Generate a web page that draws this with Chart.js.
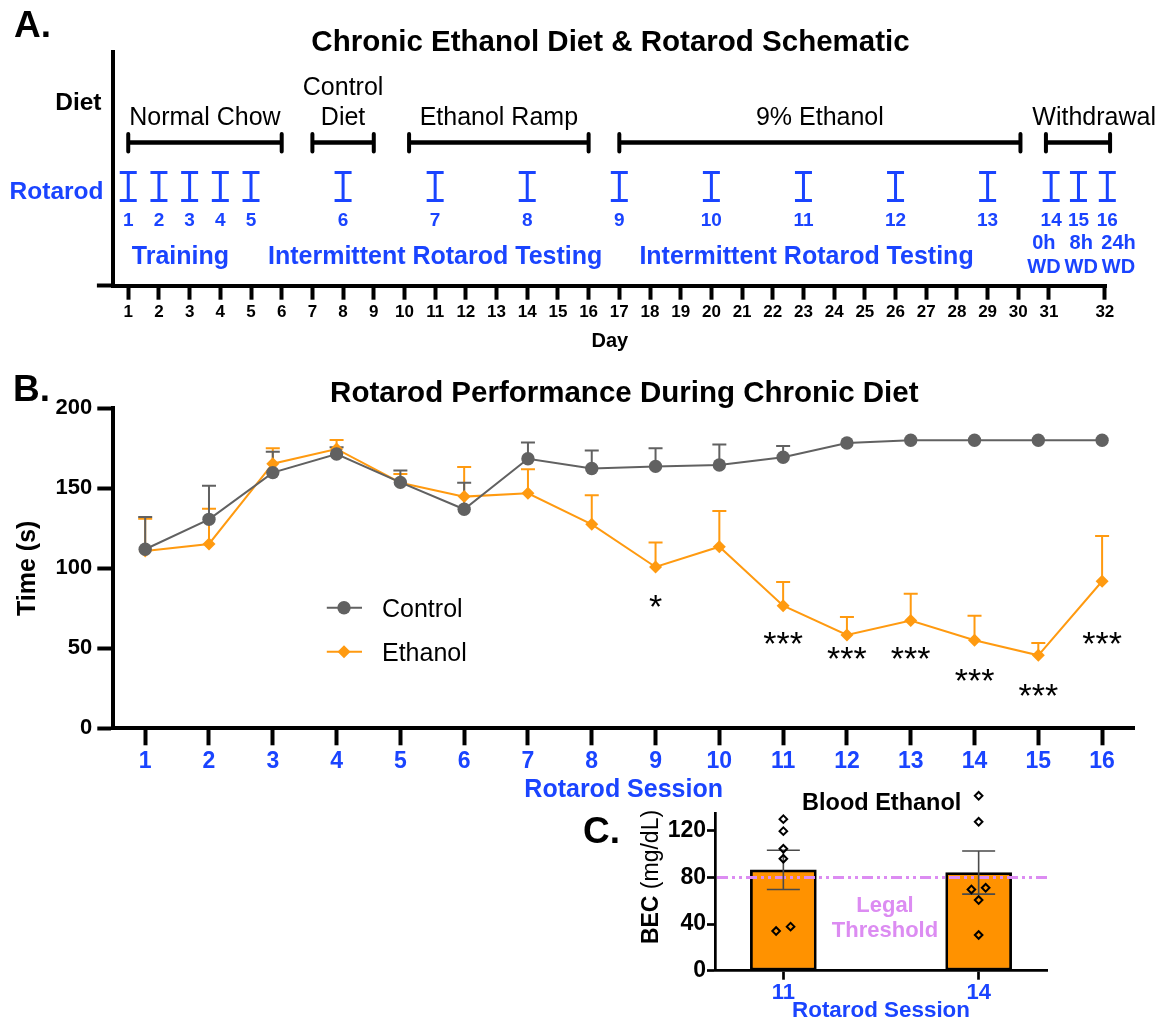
<!DOCTYPE html>
<html><head><meta charset="utf-8">
<script src="https://cdn.jsdelivr.net/npm/chart.js@4.4.1/dist/chart.umd.min.js"></script>
<style>
html,body{margin:0;padding:0;background:#fff;}
#wrap{position:relative;width:1168px;height:1024px;overflow:hidden;font-family:"Liberation Sans",Arial,Helvetica,sans-serif;background:#fff;}
canvas{position:absolute;left:0;top:0;}
.t{position:absolute;white-space:nowrap;line-height:1;transform:translate(-50%,-50%);}
</style></head><body>
<div id="wrap">
<canvas id="cA" width="1168" height="1024"></canvas>
<canvas id="cB" width="1168" height="1024"></canvas>
<canvas id="cC" width="1168" height="1024"></canvas>
</div>
<script>
const FF = '"Liberation Sans", Arial, Helvetica, sans-serif';
Chart.defaults.font.family = FF;
Chart.defaults.color = '#000';
const BLUE = '#1a44ff', GRAY = '#616161', ORANGE = '#ff9a10', BARORANGE = '#ff9200', VIOLET = '#dc8cf2';

// ---------- Panel A : schematic ----------
const dayTickPos = [1,2,3,4,5,6,7,8,9,10,11,12,13,14,15,16,17,18,19,20,21,22,23,24,25,26,27,28,29,30,31,32.82];
const dayTickLabels = ['1','2','3','4','5','6','7','8','9','10','11','12','13','14','15','16','17','18','19','20','21','22','23','24','25','26','27','28','29','30','31','32'];
const dietLabels = ['Normal Chow','Control\nDiet','Ethanol Ramp','9% Ethanol','Withdrawal'];
const dietStartDay = [1,7,10.15,17,30.9];
const dietEndDay = [6,9,16,30.07,32.99];
const rotarodSessions = ['1','2','3','4','5','6','7','8','9','10','11','12','13','14','15','16'];
const rotarodSessionDay = [1,2,3,4,5,8,11,14,17,20,23,26,29,31.07,31.96,32.9];
const withdrawalTimes = ['0h','8h','24h'];
const phaseLabels = ['Training','Intermittent Rotarod Testing','Intermittent Rotarod Testing'];
const phaseLabelDay = [2.7,11,23.1];

// ---------- Panel B : rotarod performance ----------
const sessions = [1,2,3,4,5,6,7,8,9,10,11,12,13,14,15,16];
const controlMean = [111.9,130.6,159.8,171.4,153.7,136.9,168.5,162.4,163.7,164.6,169.4,178.3,180,180,180,180];
const controlSem  = [20.1,21.0,13.1,4.2,7.5,16.6,10.2,11.3,11.3,12.7,7.0,0,0,0,0,0];
const ethanolMean = [110.8,115.2,165.4,174.6,153.5,144.8,146.9,127.5,100.8,113.5,76.6,58.3,67.3,55.0,45.6,91.9];
const ethanolSem  = [20.2,22.0,9.6,5.6,5.5,18.5,15.0,18.1,15.4,22.3,14.8,11.3,16.8,15.4,7.7,28.3];
const sigSessions = [9,11,12,13,14,15,16];
const sigMarks = ['*','***','***','***','***','***','***'];
const sigLevel = [78.5,55.2,45.6,45.6,32.3,22.7,55.2];
const timeTicks = [0,50,100,150,200];

// ---------- Panel C : blood ethanol ----------
const becSessions = ['11','14'];
const becMean = [86.5,84.2];
const becSem = [16.8,18.5];
const becValues11 = [130,119.7,104.6,96,34,37.8];
const becValues14 = [150,127.7,69.7,71.1,60.6,30.6];
const becJitter11 = [0,0,0,0,-0.037,0.037];
const becJitter14 = [0,0,-0.037,0.036,0,0];
const becTicks = [0,40,80,120];
const legalThreshold = 80;

const wrap = document.getElementById('wrap');
function txt(s, x, y, o) {
  o = o || {};
  const d = document.createElement('div');
  d.className = 't';
  d.textContent = s;
  d.style.left = x + 'px'; d.style.top = y + 'px';
  d.style.fontSize = (o.size || 20) + 'px';
  d.style.fontWeight = o.bold === false ? 'normal' : 'bold';
  d.style.color = o.color || '#000';
  if (o.align === 'right') d.style.transform = 'translate(-100%,-50%)';
  if (o.align === 'left') d.style.transform = 'translate(0,-50%)';
  wrap.appendChild(d);
  return d;
}

// ---------- Chart A ----------
const schematicPlugin = {
  id: 'schematic',
  afterDraw(chart) {
    const {ctx, scales: {x}} = chart;
    ctx.save();
    ctx.strokeStyle = '#000';
    dietStartDay.forEach((s, i) => {
      const x1 = x.getPixelForValue(s), x2 = x.getPixelForValue(dietEndDay[i]);
      const yb = 142.5;
      ctx.lineCap = 'butt'; ctx.lineWidth = 4.5;
      ctx.beginPath(); ctx.moveTo(x1, yb); ctx.lineTo(x2, yb); ctx.stroke();
      ctx.lineCap = 'round'; ctx.lineWidth = 4;
      ctx.beginPath(); ctx.moveTo(x1, 134); ctx.lineTo(x1, 151.5); ctx.moveTo(x2, 134); ctx.lineTo(x2, 151.5); ctx.stroke();
    });
    ctx.strokeStyle = BLUE; ctx.lineWidth = 3; ctx.lineCap = 'butt';
    rotarodSessionDay.forEach(d => {
      const px = x.getPixelForValue(d);
      ctx.beginPath();
      ctx.moveTo(px - 8.5, 172.5); ctx.lineTo(px + 8.5, 172.5);
      ctx.moveTo(px, 172.5); ctx.lineTo(px, 200.5);
      ctx.moveTo(px - 8.5, 200.5); ctx.lineTo(px + 8.5, 200.5);
      ctx.stroke();
    });
    ctx.restore();
  }
};

const chartA = new Chart(document.getElementById('cA'), {
  type: 'scatter',
  data: {datasets: [{data: [], showLine: false}]},
  options: {
    responsive: false, animation: false, devicePixelRatio: 1,
    layout: {padding: {left: 0, top: 51.7, right: 61.3, bottom: 668.3}},
    plugins: {legend: {display: false}, tooltip: {enabled: false}},
    scales: {
      x: {
        type: 'linear', min: 0.5, max: 32.88,
        afterBuildTicks: s => { s.ticks = dayTickPos.map(v => ({value: v})); },
        afterFit: s => { s.height = 70; },
        ticks: {autoSkip: false, maxRotation: 0, minRotation: 0, padding: 2, color: '#000',
                font: {size: 17, weight: 'bold'}, callback: (v, i) => dayTickLabels[i]},
        grid: {drawOnChartArea: false, drawTicks: true, tickLength: 14, tickWidth: 4, tickColor: '#000'},
        border: {display: true, width: 4, color: '#000'},
        title: {display: true, text: 'Day', color: '#000', font: {size: 20, weight: 'bold'}, padding: {top: 0, bottom: 2.7}}
      },
      y: {
        type: 'linear', min: 0, max: 1,
        afterBuildTicks: s => { s.ticks = [{value: 0}]; },
        afterFit: s => { s.width = 112.9; },
        ticks: {callback: () => ''},
        grid: {drawOnChartArea: false, drawTicks: true, tickLength: 16, tickWidth: 4, tickColor: '#000'},
        border: {display: true, width: 4, color: '#000'}
      }
    }
  },
  plugins: [schematicPlugin]
});

// ---------- Chart B ----------
const errorPluginB = {
  id: 'errB',
  beforeDatasetsDraw(chart) {
    const {ctx, scales: {x, y}} = chart;
    ctx.save();
    ctx.lineWidth = 2;
    [[ethanolMean, ethanolSem, ORANGE], [controlMean, controlSem, GRAY]].forEach(([m, e, c]) => {
      ctx.strokeStyle = c;
      m.forEach((v, i) => {
        if (!e[i]) return;
        const px = x.getPixelForValue(sessions[i]);
        const y0 = y.getPixelForValue(v), y1 = y.getPixelForValue(v + e[i]);
        ctx.beginPath(); ctx.moveTo(px, y0); ctx.lineTo(px, y1);
        ctx.moveTo(px - 7, y1); ctx.lineTo(px + 7, y1); ctx.stroke();
      });
    });
    ctx.restore();
  }
};
const legendPluginB = {
  id: 'legB',
  afterDatasetsDraw(chart) {
    const {ctx} = chart;
    const rows = [607.7, 651.7];
    ctx.save();
    chart.data.datasets.forEach((ds, i) => {
      const yy = rows[i], cx = 344;
      ctx.strokeStyle = ds.borderColor; ctx.fillStyle = ds.backgroundColor; ctx.lineWidth = ds.borderWidth;
      ctx.beginPath(); ctx.moveTo(326.8, yy); ctx.lineTo(362, yy); ctx.stroke();
      ctx.beginPath();
      const r = ds.pointRadius;
      if (ds.pointStyle === 'circle') ctx.arc(cx, yy, r, 0, Math.PI * 2);
      else { ctx.moveTo(cx - r, yy); ctx.lineTo(cx, yy - r); ctx.lineTo(cx + r, yy); ctx.lineTo(cx, yy + r); ctx.closePath(); }
      ctx.fill();
    });
    ctx.restore();
  }
};

const chartB = new Chart(document.getElementById('cB'), {
  type: 'line',
  data: {
    datasets: [
      {label: 'Control', data: sessions.map((s, i) => ({x: s, y: controlMean[i]})),
       borderColor: GRAY, backgroundColor: GRAY, borderWidth: 2, pointStyle: 'circle', pointRadius: 6.7,
       pointBorderWidth: 0, clip: false, tension: 0},
      {label: 'Ethanol', data: sessions.map((s, i) => ({x: s, y: ethanolMean[i]})),
       borderColor: ORANGE, backgroundColor: ORANGE, borderWidth: 2, pointStyle: 'rectRot', pointRadius: 6.5,
       pointBorderWidth: 0, clip: false, tension: 0}
    ]
  },
  options: {
    responsive: false, animation: false, devicePixelRatio: 1,
    layout: {padding: {left: 0, top: 408.3, right: 34, bottom: 215.7}},
    plugins: {legend: {display: false}, tooltip: {enabled: false}},
    scales: {
      x: {
        type: 'linear', min: 0.5, max: 16.5,
        afterBuildTicks: s => { s.ticks = sessions.map(v => ({value: v})); },
        afterFit: s => { s.height = 80; },
        ticks: {autoSkip: false, maxRotation: 0, padding: 3, color: BLUE, font: {size: 23, weight: 'bold'},
                callback: v => String(v)},
        grid: {drawOnChartArea: false, drawTicks: true, tickLength: 17, tickWidth: 4, tickColor: '#000'},
        border: {display: true, width: 4, color: '#000'},
        title: {display: true, text: 'Rotarod Session', color: BLUE, font: {size: 25, weight: 'bold'}, padding: {top: 0, bottom: 3.3}}
      },
      y: {
        type: 'linear', min: 0, max: 200,
        afterBuildTicks: s => { s.ticks = timeTicks.map(v => ({value: v})); },
        afterFit: s => { s.width = 113.3; },
        ticks: {padding: 5, color: '#000', font: {size: 22, weight: 'bold'}},
        grid: {drawOnChartArea: false, drawTicks: true, tickLength: 16, tickWidth: 4, tickColor: '#000'},
        border: {display: true, width: 4, color: '#000'},
        title: {display: true, text: 'Time (s)', color: '#000', font: {size: 25, weight: 'bold'}, padding: {top: 13.3, bottom: 0}}
      }
    }
  },
  plugins: [errorPluginB, legendPluginB]
});

// ---------- Chart C ----------
const becPlugin = {
  id: 'bec',
  afterDatasetsDraw(chart) {
    const {ctx, scales: {x, y}, chartArea} = chart;
    ctx.save();
    // legal threshold line
    ctx.strokeStyle = VIOLET; ctx.lineWidth = 3; ctx.setLineDash([11, 4, 3, 4, 3, 4]);
    const ty = y.getPixelForValue(legalThreshold);
    ctx.beginPath(); ctx.moveTo(chartArea.left + 2, ty); ctx.lineTo(chartArea.right + 4, ty); ctx.stroke();
    ctx.setLineDash([]);
    // SEM error bars
    ctx.strokeStyle = '#4a4a4a'; ctx.lineWidth = 1.6;
    becMean.forEach((m, i) => {
      const px = x.getPixelForValue(i);
      const yt = y.getPixelForValue(m + becSem[i]), yb = y.getPixelForValue(m - becSem[i]);
      ctx.beginPath();
      ctx.moveTo(px, yt); ctx.lineTo(px, yb);
      ctx.moveTo(px - 16.5, yt); ctx.lineTo(px + 16.5, yt);
      ctx.moveTo(px - 16.5, yb); ctx.lineTo(px + 16.5, yb);
      ctx.stroke();
    });
    // individual animals (hollow diamonds), not clipped to the plot area
    ctx.strokeStyle = '#000'; ctx.lineWidth = 2; ctx.lineJoin = 'miter';
    const r = 3.8;
    [[becValues11, becJitter11, 0], [becValues14, becJitter14, 1]].forEach(([vals, jit, idx]) => {
      vals.forEach((v, i) => {
        const px = x.getPixelForValue(idx + jit[i]), py = y.getPixelForValue(v);
        ctx.beginPath();
        ctx.moveTo(px - r, py); ctx.lineTo(px, py - r); ctx.lineTo(px + r, py); ctx.lineTo(px, py + r); ctx.closePath();
        ctx.stroke();
      });
    });
    ctx.restore();
  }
};

const chartC = new Chart(document.getElementById('cC'), {
  type: 'bar',
  data: {
    datasets: [
      {type: 'bar', data: becMean.map((m, i) => ({x: i, y: m})), backgroundColor: BARORANGE,
       borderColor: '#000', borderWidth: 2.7, barThickness: 66, borderSkipped: false}
    ]
  },
  options: {
    responsive: false, animation: false, devicePixelRatio: 1,
    layout: {padding: {left: 0, top: 813.3, right: 121, bottom: 2.1}},
    plugins: {legend: {display: false}, tooltip: {enabled: false}},
    scales: {
      x: {
        type: 'linear', min: -0.35, max: 1.35, offset: false,
        afterBuildTicks: s => { s.ticks = becSessions.map((v, i) => ({value: i})); },
        afterFit: s => { s.height = 51.2; },
        ticks: {autoSkip: false, maxRotation: 0, padding: 0, color: BLUE, font: {size: 22, weight: 'bold'},
                callback: (v, i) => becSessions[i]},
        grid: {offset: false, drawOnChartArea: false, drawTicks: true, tickLength: 9, tickWidth: 2.7, tickColor: '#000'},
        border: {display: true, width: 2.7, color: '#000'},
        title: {display: true, text: 'Rotarod Session', color: BLUE, font: {size: 22.4, weight: 'bold', lineHeight: 1}, padding: {top: 0, bottom: 0}}
      },
      y: {
        type: 'linear', min: 0, max: 135,
        afterBuildTicks: s => { s.ticks = becTicks.map(v => ({value: v})); },
        afterFit: s => { s.width = 715; },
        ticks: {padding: 1, color: '#000', font: {size: 23, weight: 'bold'}},
        grid: {drawOnChartArea: false, drawTicks: true, tickLength: 8, tickWidth: 2.7, tickColor: '#000'},
        border: {display: true, width: 2.7, color: '#000'}
      }
    }
  },
  plugins: [becPlugin]
});

// ---------- Text (HTML) ----------
txt('A.', 14, 24, {size: 37, align: 'left'});
txt('B.', 13, 388, {size: 37, align: 'left'});
txt('C.', 583, 830, {size: 37, align: 'left'});
txt('Chronic Ethanol Diet & Rotarod Schematic', 610.5, 41, {size: 29.5});
txt('Rotarod Performance During Chronic Diet', 624.3, 392, {size: 29.5});

// panel A labels
const xa = chartA.scales.x;
txt('Diet', 101.5, 102, {size: 24.5, align: 'right'});
txt('Rotarod', 103.5, 191, {size: 24.5, align: 'right', color: BLUE});
dietLabels.forEach((lab, i) => {
  const lines = lab.split('\n');
  const cx = (xa.getPixelForValue(dietStartDay[i]) + xa.getPixelForValue(dietEndDay[i])) / 2;
  const last = i === dietLabels.length - 1;
  lines.forEach((ln, j) => {
    const yy = 116 - (lines.length - 1 - j) * 30.5;
    if (last) txt(ln, 1156, yy, {size: 25, bold: false, align: 'right'});
    else txt(ln, cx, yy, {size: 25, bold: false});
  });
});
rotarodSessions.forEach((s, i) => {
  txt(s, xa.getPixelForValue(rotarodSessionDay[i]), 219, {size: 19, color: BLUE});
});
const wdCenter = (xa.getPixelForValue(rotarodSessionDay[13]) + xa.getPixelForValue(rotarodSessionDay[15])) / 2 + 2;
withdrawalTimes.forEach((t, i) => {
  const cx = wdCenter + (i - 1) * 37.3;
  txt(t, cx, 242, {size: 20, color: BLUE});
  txt('WD', cx, 266, {size: 20, color: BLUE});
});
phaseLabels.forEach((p, i) => {
  txt(p, xa.getPixelForValue(phaseLabelDay[i]), 255, {size: 25, color: BLUE});
});

// panel B legend + significance
txt('Control', 382, 608, {size: 25, bold: false, align: 'left'});
txt('Ethanol', 382, 652, {size: 25, bold: false, align: 'left'});
const xb = chartB.scales.x, yb = chartB.scales.y;
sigSessions.forEach((s, i) => {
  txt(sigMarks[i], xb.getPixelForValue(s), yb.getPixelForValue(sigLevel[i]) + 3, {size: 34, bold: false});
});

// panel C labels
txt('Blood Ethanol', 881.7, 803, {size: 23.5});
txt('Legal', 885, 905, {size: 22, color: VIOLET});
txt('Threshold', 885, 930, {size: 22, color: VIOLET});
const bec = document.createElement('div');
bec.className = 't';
bec.style.left = '650px'; bec.style.top = '877px'; bec.style.fontSize = '23px';
bec.style.transform = 'translate(-50%,-50%) rotate(-90deg)';
bec.innerHTML = '<b>BEC</b> (mg/dL)';
wrap.appendChild(bec);
</script>
</body></html>
